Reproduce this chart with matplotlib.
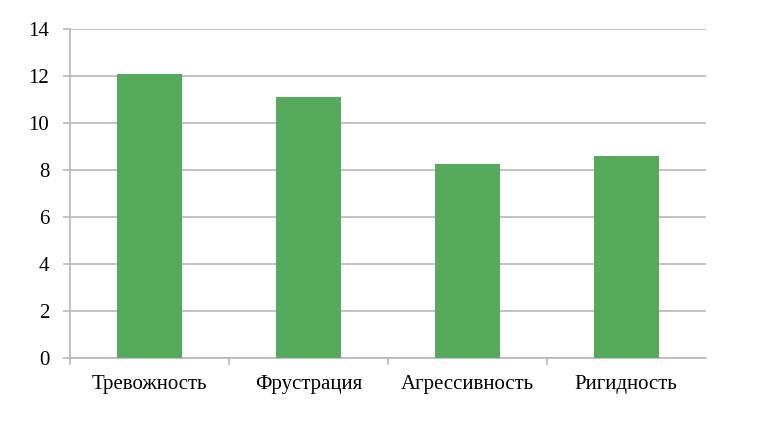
import matplotlib.pyplot as plt
import numpy as np

categories = ['Тревожность', 'Фрустрация', 'Агрессивность', 'Ригидность']
values = [12.1, 11.1, 8.25, 8.6]
y_ticks = [0, 2, 4, 6, 8, 10, 12, 14]

plt.rcParams['font.family'] = ['Liberation Serif', 'DejaVu Serif']

fig = plt.figure(figsize=(7.64, 4.30), dpi=100)
ax = fig.add_axes([0.0916, 0.1674, 0.832, 0.7652])

x = np.arange(len(categories))
ax.bar(x, values, width=0.41, color='#55ab5b', zorder=3)

ax.set_ylim(0, 14)
ax.set_xlim(-0.5, len(categories) - 0.5)
ax.set_yticks(y_ticks)
ax.grid(axis='y', color='#b8b8b8', linewidth=1.2, zorder=0)

ax.set_xticks(x)
ax.set_xticklabels(categories)
ax.set_xticks(np.arange(len(categories)) - 0.5, minor=True)
ax.tick_params(axis='x', which='major', length=0, pad=12, labelsize=15)
ax.tick_params(axis='x', which='minor', length=5, color='#b8b8b8', width=1.2)
ax.tick_params(axis='y', length=5, color='#b8b8b8', width=1.2, pad=10, labelsize=15)

for side in ['top', 'right']:
    ax.spines[side].set_visible(False)
for side in ['left', 'bottom']:
    ax.spines[side].set_color('#b8b8b8')
    ax.spines[side].set_linewidth(1.2)

fig.savefig('out.png', dpi=100)
